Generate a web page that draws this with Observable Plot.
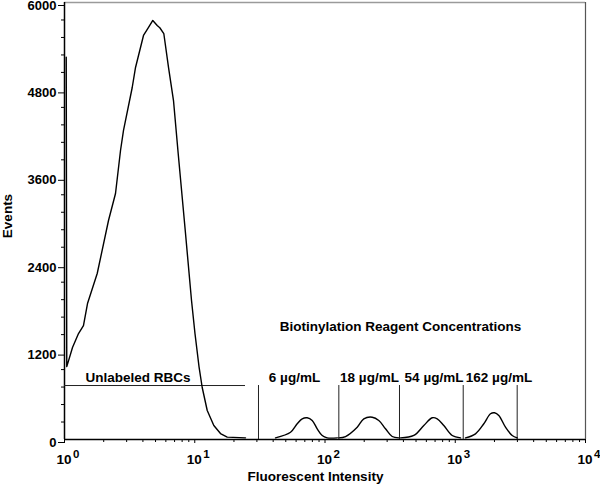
<!DOCTYPE html>
<html>
<head>
<meta charset="utf-8">
<script src="https://cdn.jsdelivr.net/npm/d3@7"></script>
<script src="https://cdn.jsdelivr.net/npm/@observablehq/plot@0.6"></script>
<style>
  html, body { margin: 0; padding: 0; background: #fff; overflow: hidden; }
  svg { display: block; }
</style>
</head>
<body>
<div id="chart"></div>
<script>
// ---- Data ----
// Unlabeled RBC histogram (Fluorescent Intensity, Events)
const mainX = [1.031, 1.041, 1.152, 1.281, 1.398, 1.502, 1.783, 2.177, 2.464, 2.692, 2.838, 3.311, 3.510, 4.041, 4.417, 4.764, 5.149, 5.392, 5.786, 6.288, 6.868, 7.462, 8.494, 9.445, 10.04, 10.78, 11.41, 12.47, 14.01, 15.76, 17.76, 24.53];
const mainY = [5250, 1000, 1263, 1455, 1565, 1867, 2279, 3007, 3378, 3968, 4243, 4833, 5108, 5547, 5657, 5753, 5684, 5653, 5574, 5108, 4654, 3927, 2828, 1908, 1455, 1002, 714, 398, 192, 82, 32, 23];

// Labeled peaks
const peak6X = [41.69, 54.38, 61.18, 66.83, 72.98, 79.75, 87.14, 95.15, 104.0, 124.1];
const peak6Y = [23, 100, 216, 284, 298, 261, 147, 55, 23, 23];
const peak18X = [127.7, 143.8, 176.7, 198.6, 230.5, 258.9, 291.4, 328.1, 368.7];
const peak18Y = [23, 41, 169, 284, 306, 261, 147, 41, 23];
const peak54X = [379.8, 480.8, 573.6, 665.6, 727.0, 817.0, 947.5, 1098];
const peak54Y = [23, 55, 192, 298, 284, 192, 55, 23];
const peak162X = [1199, 1430, 1657, 1864, 2001, 2160, 2431, 2737, 2989];
const peak162Y = [23, 78, 216, 353, 367, 330, 169, 55, 23];

// Gate markers
const gateLevel = 741;
const unlabeledGate = [1, 24.53];
const gateLinesX = [30.86, 127.7, 373.2, 1151, 2989];

// Annotations
const gateLabels = ["Unlabeled RBCs", "6 µg/mL", "18 µg/mL", "54 µg/mL", "162 µg/mL"];
const gateLabelX = [3.667, 58.32, 219.6, 686.9, 2167];
const groupTitle = "Biotinylation Reagent Concentrations";
const groupTitleX = 379.8;
const groupTitleY = 1551;

// Axes
const xTicks = [1, 10, 100, 1000, 10000];
const xTickExp = ["0", "1", "2", "3", "4"];
const yTicks = [0, 1200, 2400, 3600, 4800, 6000];
const yMinorStep = 240;
const xLabel = "Fluorescent Intensity";
const yLabel = "Events";

// ---- Build tables ----
const mainData = mainX.map((x, i) => ({x, y: mainY[i]}));
const peaks = [
  ["6", peak6X, peak6Y], ["18", peak18X, peak18Y],
  ["54", peak54X, peak54Y], ["162", peak162X, peak162Y]
].flatMap(([z, xs, ys]) => xs.map((x, i) => ({z, x, y: ys[i]})));
const labels = gateLabels.map((t, i) => ({t, x: gateLabelX[i]}));
const xMinor = [];
for (let d = 1; d < 10000; d *= 10) for (let k = 2; k <= 9; k++) xMinor.push(d * k);
const yMinor = d3.range(0, 6000 + 1, yMinorStep).filter(v => !yTicks.includes(v));

const font = "'Liberation Sans', Arial, Helvetica, sans-serif";

const chart = Plot.plot({
  width: 600,
  height: 485,
  marginLeft: 64,
  marginRight: 15,
  marginTop: 2,
  marginBottom: 46,
  x: {type: "log", domain: [1, 10000]},
  y: {domain: [0, 6000]},
  style: {fontFamily: font, fontWeight: "bold", background: "#fff", color: "#000", overflow: "visible"},
  marks: [
    // frame
    Plot.ruleY([6000], {stroke: "#9a9a9a", strokeWidth: 1.5}),
    Plot.ruleX([10000], {stroke: "#555", strokeWidth: 1.2}),
    // axes
    Plot.axisY(yTicks, {tickSize: 6, tickPadding: 2, fontSize: 13, fontWeight: "bold", dy: 3, label: null, tickFormat: d => String(d)}),
    Plot.axisY(yMinor, {tickSize: 3, tickFormat: () => "", label: null}),
    Plot.axisX(xTicks, {tickSize: 4, tickFormat: () => "", label: null}),
    Plot.axisX(xMinor, {tickSize: 3, tickFormat: () => "", label: null}),
    Plot.ruleX([1], {stroke: "#000", strokeWidth: 1.5}),
    Plot.ruleY([0], {stroke: "#000", strokeWidth: 1.5}),
    Plot.text(xTicks, {x: d => d, y: 0, text: () => "10", textAnchor: "end", dx: 7, dy: 20, fontSize: 13.5, fontWeight: "bold", lineAnchor: "middle"}),
    Plot.text(xTicks, {x: d => d, y: 0, text: (d, i) => xTickExp[i], textAnchor: "start", dx: 8.5, dy: 14.5, fontSize: 11.5, fontWeight: "bold", lineAnchor: "middle"}),
    Plot.text([xLabel], {frameAnchor: "bottom", textAnchor: "middle", dx: -9.5, dy: 37, fontSize: 13.5, fontWeight: "bold", lineAnchor: "middle"}),
    Plot.text([yLabel], {frameAnchor: "left", textAnchor: "middle", rotate: -90, dx: -57, dy: -5, fontSize: 13.5, fontWeight: "bold", lineAnchor: "middle"}),
    // gates
    Plot.ruleY([gateLevel], {x1: unlabeledGate[0], x2: unlabeledGate[1], stroke: "#222", strokeWidth: 1}),
    Plot.ruleX(gateLinesX, {y1: 0, y2: gateLevel, stroke: "#222", strokeWidth: 1}),
    // histograms
    Plot.line(mainData, {x: "x", y: "y", stroke: "#000", strokeWidth: 1.4, curve: "linear"}),
    Plot.line(peaks, {x: "x", y: "y", z: "z", stroke: "#000", strokeWidth: 1.4, curve: "catmull-rom"}),
    // annotations
    Plot.text(labels, {x: "x", y: gateLevel, text: "t", dy: -8, fontSize: 13.5, fontWeight: "bold", lineAnchor: "middle"}),
    Plot.text([groupTitle], {x: groupTitleX, y: groupTitleY, fontSize: 13.5, fontWeight: "bold", lineAnchor: "middle"})
  ]
});

document.getElementById("chart").appendChild(chart);
</script>
</body>
</html>
